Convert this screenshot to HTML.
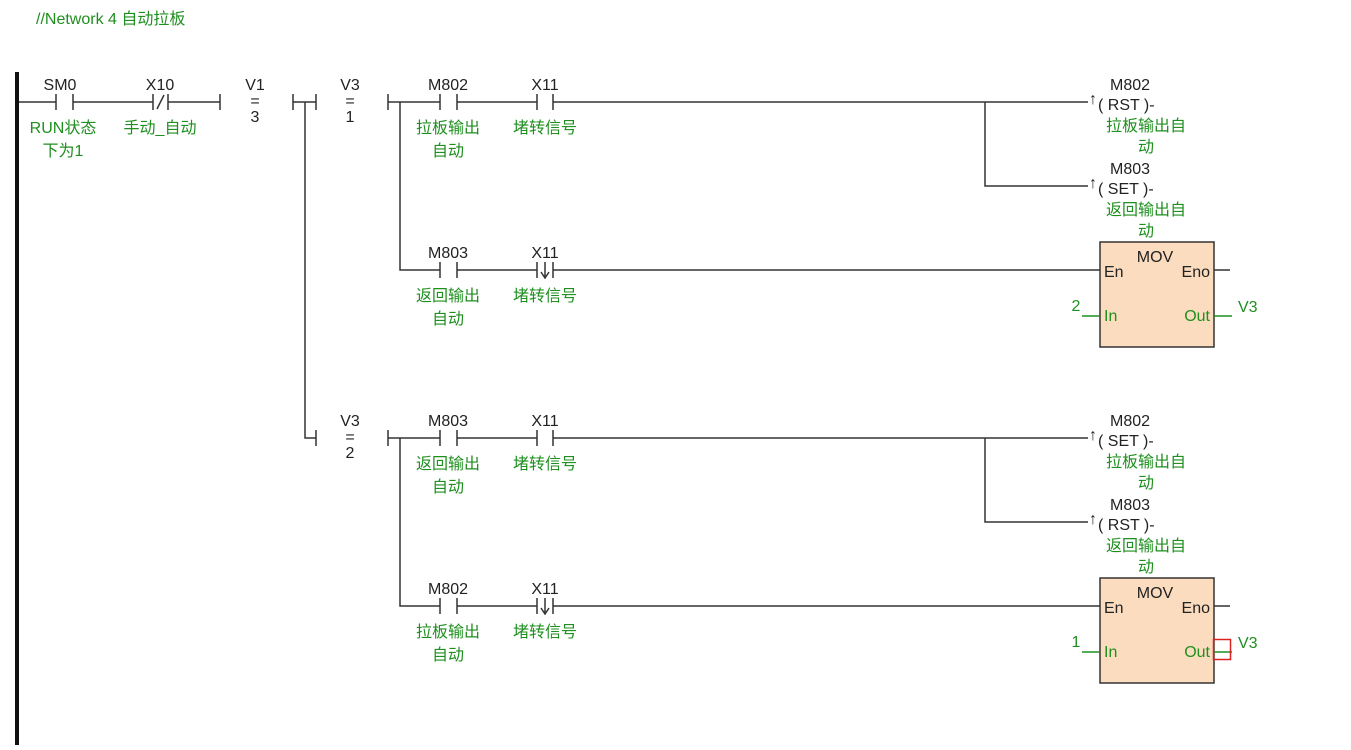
<!DOCTYPE html>
<html><head><meta charset="utf-8"><style>
body{margin:0;background:#fff;}
svg{display:block;font-family:"Liberation Sans","Noto Sans CJK SC",sans-serif;}
.k{fill:#222;font-size:16px;}
.g{fill:#1f8f1f;font-size:16px;}
.l{stroke:#333;stroke-width:1.5;fill:none;}
.gl{stroke:#1f8f1f;stroke-width:1.5;fill:none;}
</style></head><body>
<svg width="1351" height="750" viewBox="0 0 1351 750">
<text x="36" y="24" class="g" font-size="15">//Network 4  自动拉板</text>
<rect x="15" y="72" width="4" height="673" fill="#111"/>
<!-- rung 1 main -->
<path class="l" d="M19 102H56M56 94V110M73 94V110M73 102H153M153 94V110M168 94V110M168 102H220M220 94V110"/>
<path class="l" d="M157 109L164 95"/>
<text x="60" y="90" class="k" text-anchor="middle">SM0</text>
<text x="160" y="90" class="k" text-anchor="middle">X10</text>
<text x="63" y="133" class="g" text-anchor="middle">RUN状态</text>
<text x="63" y="156" class="g" text-anchor="middle">下为1</text>
<text x="160" y="133" class="g" text-anchor="middle">手动_自动</text>
<text x="255" y="90" class="k" text-anchor="middle">V1</text>
<text x="255" y="106" class="k" text-anchor="middle">=</text>
<text x="255" y="122" class="k" text-anchor="middle">3</text>
<path class="l" d="M293 94V110M293 102H316M316 94V110M305 102V438H316M316 430V446"/>
<g id="top">
<text x="350" y="90" class="k" text-anchor="middle">V3</text>
<text x="350" y="106" class="k" text-anchor="middle">=</text>
<text x="350" y="122" class="k" text-anchor="middle">1</text>
<path class="l" d="M388 94V110M388 102H440M400 102V270H440M440 94V110M457 94V110M457 102H537M537 94V110M553 94V110M553 102H1088M985 102V186H1088"/>
<path class="l" d="M440 262V278M457 262V278M457 270H537M537 262V278M553 262V278M553 270H1100"/>
<path class="l" d="M545 262V277M541 272L545 278L549 272"/>
<path class="l" d="M1214 270H1230"/>
<rect x="1100" y="242" width="114" height="105" fill="#fcdcbe" stroke="#333" stroke-width="1.5"/>
<text x="1155" y="262" class="k" text-anchor="middle">MOV</text>
<text x="1104" y="277" class="k">En</text>
<text x="1210" y="277" class="k" text-anchor="end">Eno</text>
<text x="1104" y="321" class="g">In</text>
<text x="1210" y="321" class="g" text-anchor="end">Out</text>
<path class="gl" d="M1082 316H1100M1214 316H1232"/>
<text x="1238" y="312" class="g">V3</text>
<text x="1093" y="104" class="k" font-size="11" text-anchor="middle">↑</text>
<text x="1093" y="188" class="k" font-size="11" text-anchor="middle">↑</text>
</g>
<text x="448" y="90" class="k" text-anchor="middle">M802</text>
<text x="545" y="90" class="k" text-anchor="middle">X11</text>
<text x="448" y="133" class="g" text-anchor="middle">拉板输出</text>
<text x="448" y="156" class="g" text-anchor="middle">自动</text>
<text x="545" y="133" class="g" text-anchor="middle">堵转信号</text>
<text x="448" y="258" class="k" text-anchor="middle">M803</text>
<text x="545" y="258" class="k" text-anchor="middle">X11</text>
<text x="448" y="301" class="g" text-anchor="middle">返回输出</text>
<text x="448" y="324" class="g" text-anchor="middle">自动</text>
<text x="545" y="301" class="g" text-anchor="middle">堵转信号</text>
<text x="1130" y="90" class="k" text-anchor="middle">M802</text>
<text x="1098" y="110" class="k">( RST )-</text>
<text x="1146" y="131" class="g" text-anchor="middle">拉板输出自</text>
<text x="1146" y="152" class="g" text-anchor="middle">动</text>
<text x="1130" y="174" class="k" text-anchor="middle">M803</text>
<text x="1098" y="194" class="k">( SET )-</text>
<text x="1146" y="215" class="g" text-anchor="middle">返回输出自</text>
<text x="1146" y="236" class="g" text-anchor="middle">动</text>
<text x="1076" y="311" class="g" text-anchor="middle">2</text>
<!-- lower -->
<g transform="translate(0,336)">
<rect x="0" y="0" width="0" height="0"/>
<text x="350" y="90" class="k" text-anchor="middle">V3</text>
<text x="350" y="106" class="k" text-anchor="middle">=</text>
<text x="350" y="122" class="k" text-anchor="middle">2</text>
<path class="l" d="M388 94V110M388 102H440M400 102V270H440M440 94V110M457 94V110M457 102H537M537 94V110M553 94V110M553 102H1088M985 102V186H1088"/>
<path class="l" d="M440 262V278M457 262V278M457 270H537M537 262V278M553 262V278M553 270H1100"/>
<path class="l" d="M545 262V277M541 272L545 278L549 272"/>
<path class="l" d="M1214 270H1230"/>
<rect x="1100" y="242" width="114" height="105" fill="#fcdcbe" stroke="#333" stroke-width="1.5"/>
<text x="1155" y="262" class="k" text-anchor="middle">MOV</text>
<text x="1104" y="277" class="k">En</text>
<text x="1210" y="277" class="k" text-anchor="end">Eno</text>
<text x="1104" y="321" class="g">In</text>
<text x="1210" y="321" class="g" text-anchor="end">Out</text>
<path class="gl" d="M1082 316H1100M1214 316H1232"/>
<text x="1238" y="312" class="g">V3</text>
<rect x="1213.5" y="303.5" width="17" height="20" fill="none" stroke="#d22" stroke-width="1.5"/>
<text x="1093" y="104" class="k" font-size="11" text-anchor="middle">↑</text>
<text x="1093" y="188" class="k" font-size="11" text-anchor="middle">↑</text>
<text x="448" y="90" class="k" text-anchor="middle">M803</text>
<text x="545" y="90" class="k" text-anchor="middle">X11</text>
<text x="448" y="133" class="g" text-anchor="middle">返回输出</text>
<text x="448" y="156" class="g" text-anchor="middle">自动</text>
<text x="545" y="133" class="g" text-anchor="middle">堵转信号</text>
<text x="448" y="258" class="k" text-anchor="middle">M802</text>
<text x="545" y="258" class="k" text-anchor="middle">X11</text>
<text x="448" y="301" class="g" text-anchor="middle">拉板输出</text>
<text x="448" y="324" class="g" text-anchor="middle">自动</text>
<text x="545" y="301" class="g" text-anchor="middle">堵转信号</text>
<text x="1130" y="90" class="k" text-anchor="middle">M802</text>
<text x="1098" y="110" class="k">( SET )-</text>
<text x="1146" y="131" class="g" text-anchor="middle">拉板输出自</text>
<text x="1146" y="152" class="g" text-anchor="middle">动</text>
<text x="1130" y="174" class="k" text-anchor="middle">M803</text>
<text x="1098" y="194" class="k">( RST )-</text>
<text x="1146" y="215" class="g" text-anchor="middle">返回输出自</text>
<text x="1146" y="236" class="g" text-anchor="middle">动</text>
<text x="1076" y="311" class="g" text-anchor="middle">1</text>
</g>
</svg>
</body></html>
